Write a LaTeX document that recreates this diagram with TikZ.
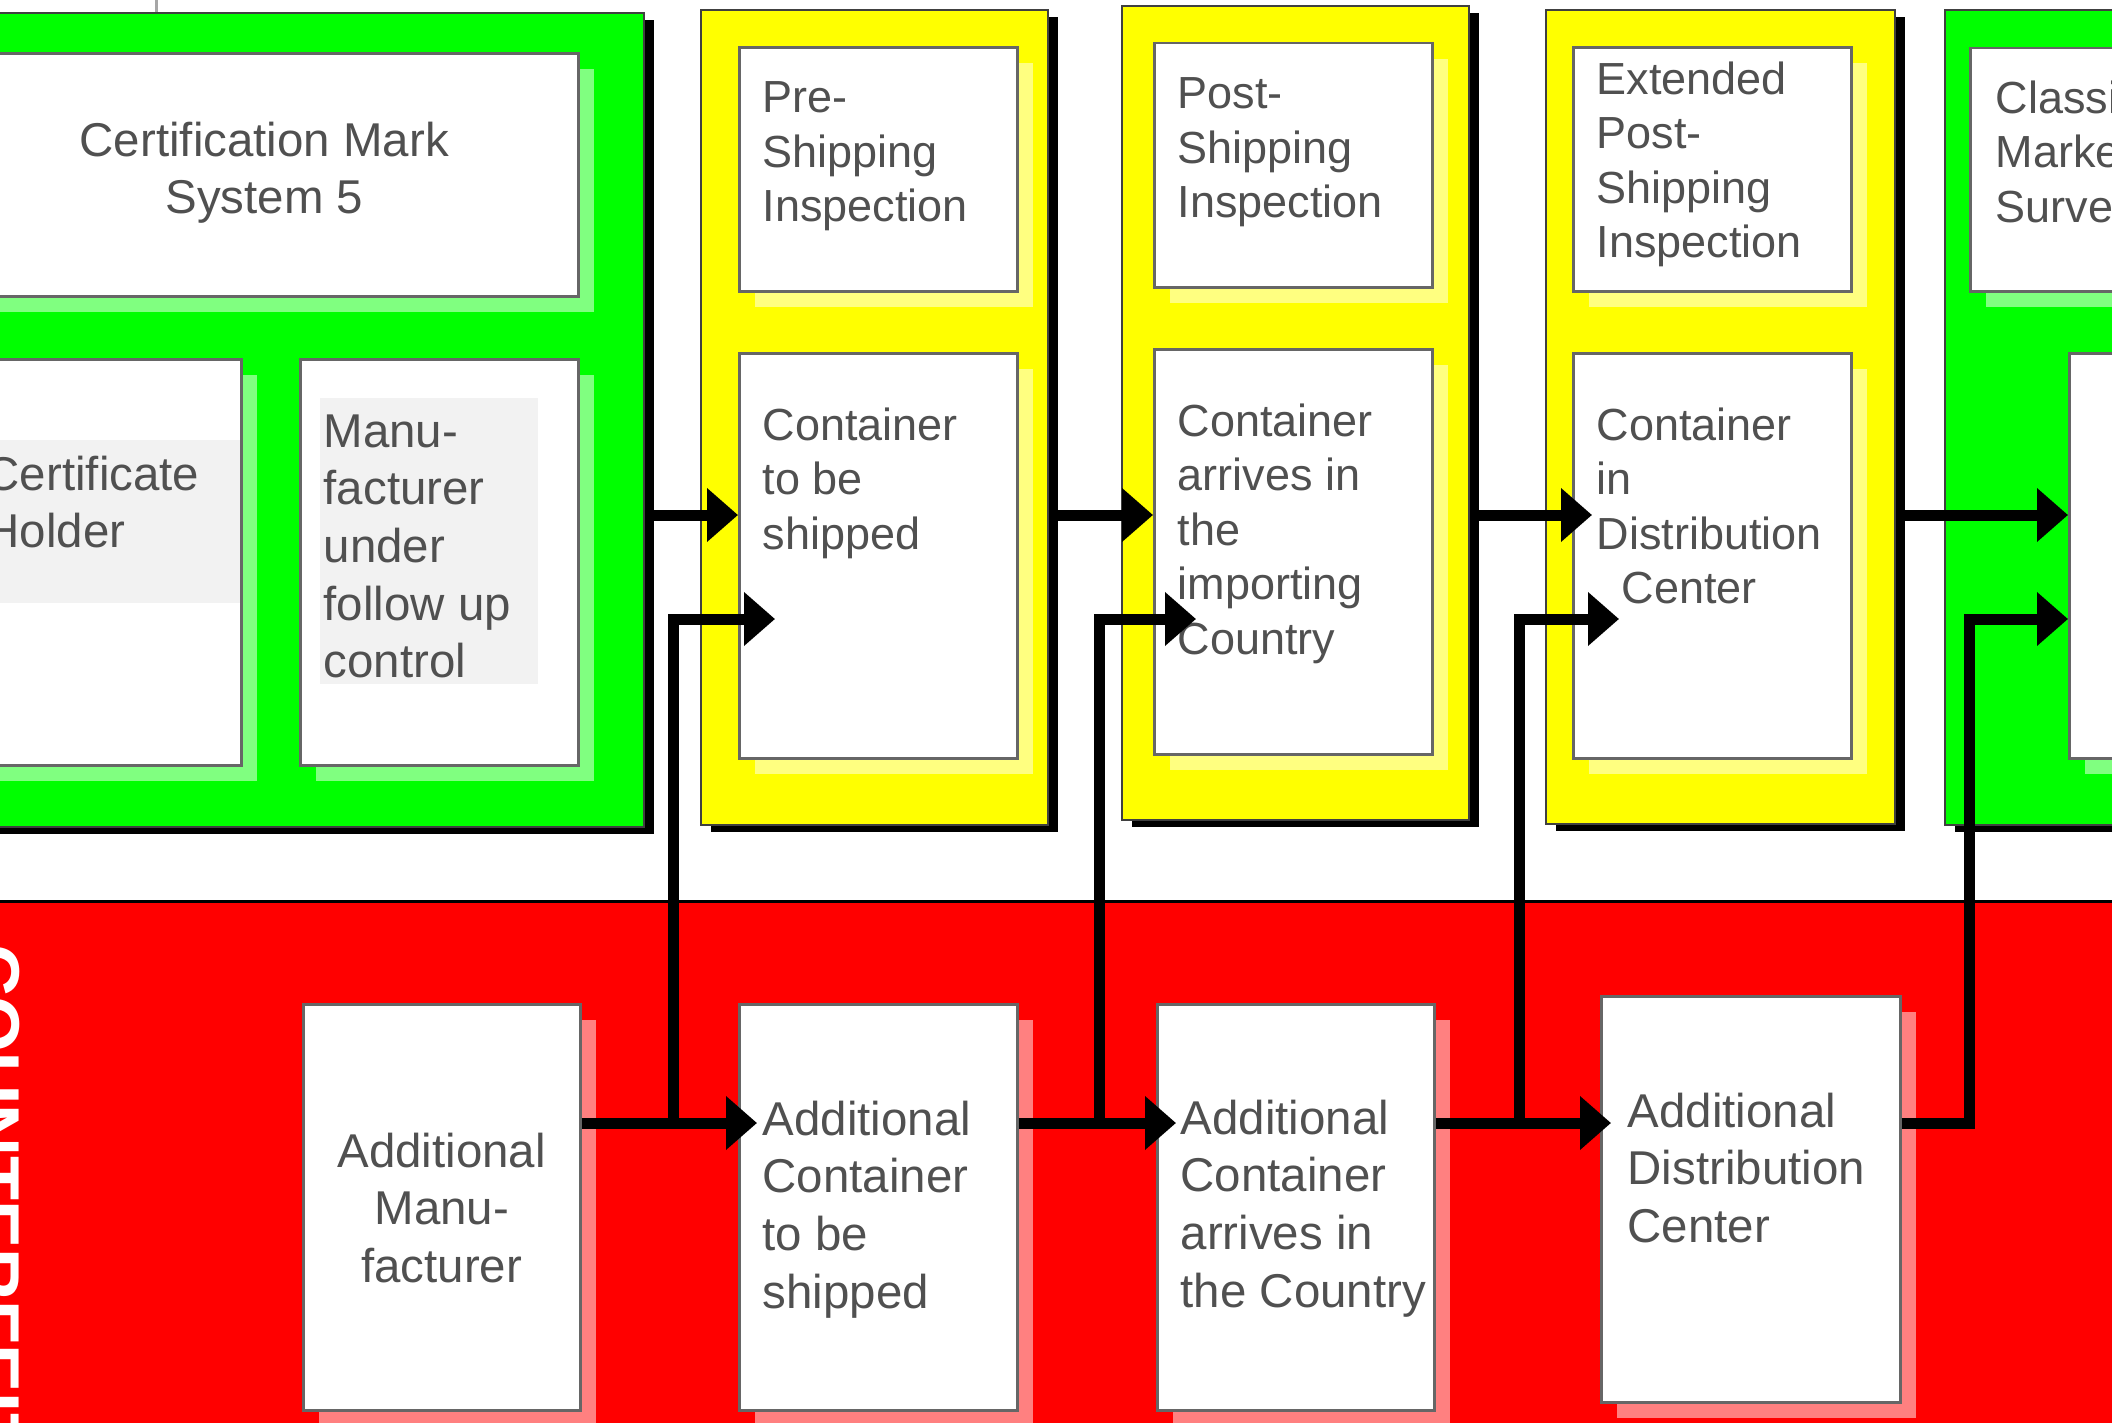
\documentclass[tikz,border=0pt]{standalone}
\usepackage{fontspec}
\setmainfont{Liberation Sans}
\usepackage{tikz}
\usetikzlibrary{arrows.meta,%
		positioning,%
		shadows}
\definecolor{verde}{RGB}{0,255,0}
\definecolor{giallo}{RGB}{255,255,0}
\definecolor{rosso}{RGB}{255,0,0}
\definecolor{grigiotesto}{RGB}{80,80,80}
\definecolor{grigiosfondo}{RGB}{242,242,242}

\begin{document}
\begin{tikzpicture}[
colonna/.style={draw=black!75,line width=.02cm,inner sep=0,anchor=north west,
  drop shadow={shadow xshift=.10cm,shadow yshift=-.07cm,fill=black,opacity=1}},
riquadro/.style={draw=black!60,fill=white,line width=.025cm,inner sep=0,anchor=north west,
  drop shadow={shadow xshift=.16cm,shadow yshift=-.16cm,fill=white,opacity=.5}},
sfondo/.style={fill=grigiosfondo,inner sep=0,anchor=north west},
testo/.style={text=grigiotesto,inner sep=0,align=left,font=\fontsize{12.8}{15.5}\selectfont},
testogr/.style={testo,font=\fontsize{13.5}{16.4}\selectfont},
freccia/.style={line width=.11cm,-{Triangle[length=.31cm,width=.52cm]}}]

\useasboundingbox (0,0) rectangle (21.12,-14.23);

%la fascia rossa
\node[draw=black,line width=.03cm,fill=rosso,inner sep=0,anchor=north west,
  minimum width=22.5cm,minimum height=6cm] (fascia) at(-0.5,-9.00){};
\node[rotate=-90,anchor=base west,inner sep=0,text=white,
  font=\fontsize{20.5}{24}\selectfont\bfseries] (falso) at(-0.30,-9.44){COUNTERFEIT};

%le colonne
\node[colonna,fill=verde,minimum width=6.83cm,minimum height=8.14cm] (verde1) at(-0.40,-0.12){};
\node[colonna,fill=giallo,minimum width=3.47cm,minimum height=8.15cm] (giallo1) at(7.00,-0.09){};
\node[colonna,fill=giallo,minimum width=3.47cm,minimum height=8.14cm] (giallo2) at(11.21,-0.05){};
\node[colonna,fill=giallo,minimum width=3.49cm,minimum height=8.14cm] (giallo3) at(15.45,-0.09){};
\node[colonna,fill=verde,minimum width=2.50cm,minimum height=8.15cm] (verde2) at(19.44,-0.09){};
\coordinate (filo) at(1.56,0);
\draw[black!35,line width=.03cm] (filo) -- (filo |- verde1.north);

%i riquadri in alto
\node[riquadro,minimum width=6.28cm,minimum height=2.43cm] (cm5) at(-0.51,-0.52){};
\node[riquadro,minimum width=2.78cm,minimum height=4.06cm] (holder) at(-0.38,-3.58){};
\node[riquadro,minimum width=2.78cm,minimum height=4.06cm] (manu) at(2.99,-3.58){};
\node[riquadro,minimum width=2.78cm,minimum height=2.44cm] (pre) at(7.38,-0.46){};
\node[riquadro,minimum width=2.78cm,minimum height=4.05cm] (cts) at(7.38,-3.52){};
\node[riquadro,minimum width=2.78cm,minimum height=2.44cm] (post) at(11.53,-0.42){};
\node[riquadro,minimum width=2.78cm,minimum height=4.05cm] (ca) at(11.53,-3.48){};
\node[riquadro,minimum width=2.78cm,minimum height=2.44cm] (ext) at(15.72,-0.46){};
\node[riquadro,minimum width=2.78cm,minimum height=4.05cm] (cd) at(15.72,-3.52){};
\node[riquadro,minimum width=2.60cm,minimum height=2.43cm] (va) at(19.69,-0.47){};
\node[riquadro,minimum width=1.60cm,minimum height=4.05cm] (vb) at(20.68,-3.52){};
\node[sfondo,minimum width=2.69cm,minimum height=1.63cm] (sfondoH) at(-0.30,-4.39){};
\node[sfondo,minimum width=2.18cm,minimum height=2.86cm] (sfondoM) at(3.19,-3.97){};

%i testi in alto
\node[testogr,align=center,below=0.69cm of cm5.north] (tcm5){Certification Mark\\System 5};
\node[testogr,below right=0.97cm and 0.23cm of holder.north west] (tholder){Certificate\\Holder};
\node[testogr,below right=0.56cm and 0.24cm of manu.north west] (tmanu){Manu-\\facturer\\under\\follow up\\control};
\node[testo,below right=0.35cm and 0.24cm of pre.north west] (tpre){Pre-\\Shipping\\Inspection};
\node[testo,below right=0.55cm and 0.24cm of cts.north west] (tcts){Container\\to be\\shipped};
\node[testo,below right=0.35cm and 0.24cm of post.north west] (tpost){Post-\\Shipping\\Inspection};
\node[testo,below right=0.55cm and 0.24cm of ca.north west] (tca){Container\\arrives in\\the\\importing\\Country};
\node[testo,below right=0.15cm and 0.24cm of ext.north west] (text){Extended\\Post-\\Shipping\\Inspection};
\node[testo,below right=0.55cm and 0.24cm of cd.north west] (tcd){Container\\in\\Distribution\\~~Center};
\node[testo,below right=0.33cm and 0.26cm of va.north west] (tva){Classi\\Marke\\Surve};

%i riquadri in basso
\node[riquadro,minimum width=2.77cm,minimum height=4.06cm] (bm) at(3.02,-10.03){};
\node[riquadro,minimum width=2.78cm,minimum height=4.06cm] (bc) at(7.38,-10.03){};
\node[riquadro,minimum width=2.77cm,minimum height=4.06cm] (ba) at(11.56,-10.03){};
\node[riquadro,minimum width=2.99cm,minimum height=4.06cm] (bd) at(16.00,-9.95){};
\node[testogr,align=center,below=1.29cm of bm.north] (tbm){Additional\\Manu-\\facturer};
\node[testogr,below right=0.97cm and 0.24cm of bc.north west] (tbc){Additional\\Container\\to be\\shipped};
\node[testogr,below right=0.96cm and 0.24cm of ba.north west] (tba){Additional\\Container\\arrives in\\the Country};
\node[testogr,below right=0.97cm and 0.27cm of bd.north west] (tbd){Additional\\Distribution\\Center};

%le frecce
\coordinate (alto) at(0,-5.15);
\coordinate (medio) at(0,-6.19);
\coordinate (basso) at(0,-11.23);
\coordinate (j1) at(6.73,-11.23);
\coordinate (j2) at(10.99,-11.23);
\coordinate (j3) at(15.19,-11.23);
\coordinate (j4) at(19.69,-11.23);
\draw[freccia] (verde1.east |- alto) -- (cts.west |- alto);
\draw[freccia] (giallo1.east |- alto) -- (ca.west |- alto);
\draw[freccia] (giallo2.east |- alto) -- ([xshift=.20cm]cd.west |- alto);
\draw[freccia] (giallo3.east |- alto) -- (vb.west |- alto);
\draw[freccia] (bm.east |- basso) -- ([xshift=.19cm]bc.west |- basso);
\draw[freccia] (j1) |- ([xshift=.37cm]cts.west |- medio);
\draw[freccia] (bc.east |- basso) -- ([xshift=.20cm]ba.west |- basso);
\draw[freccia] (j2) |- ([xshift=.43cm]ca.west |- medio);
\draw[freccia] (ba.east |- basso) -- ([xshift=.11cm]bd.west |- basso);
\draw[freccia] (j3) |- ([xshift=.47cm]cd.west |- medio);
\draw[freccia] (bd.east |- basso) -- (j4) |- (vb.west |- medio);

\end{tikzpicture}
\end{document}
